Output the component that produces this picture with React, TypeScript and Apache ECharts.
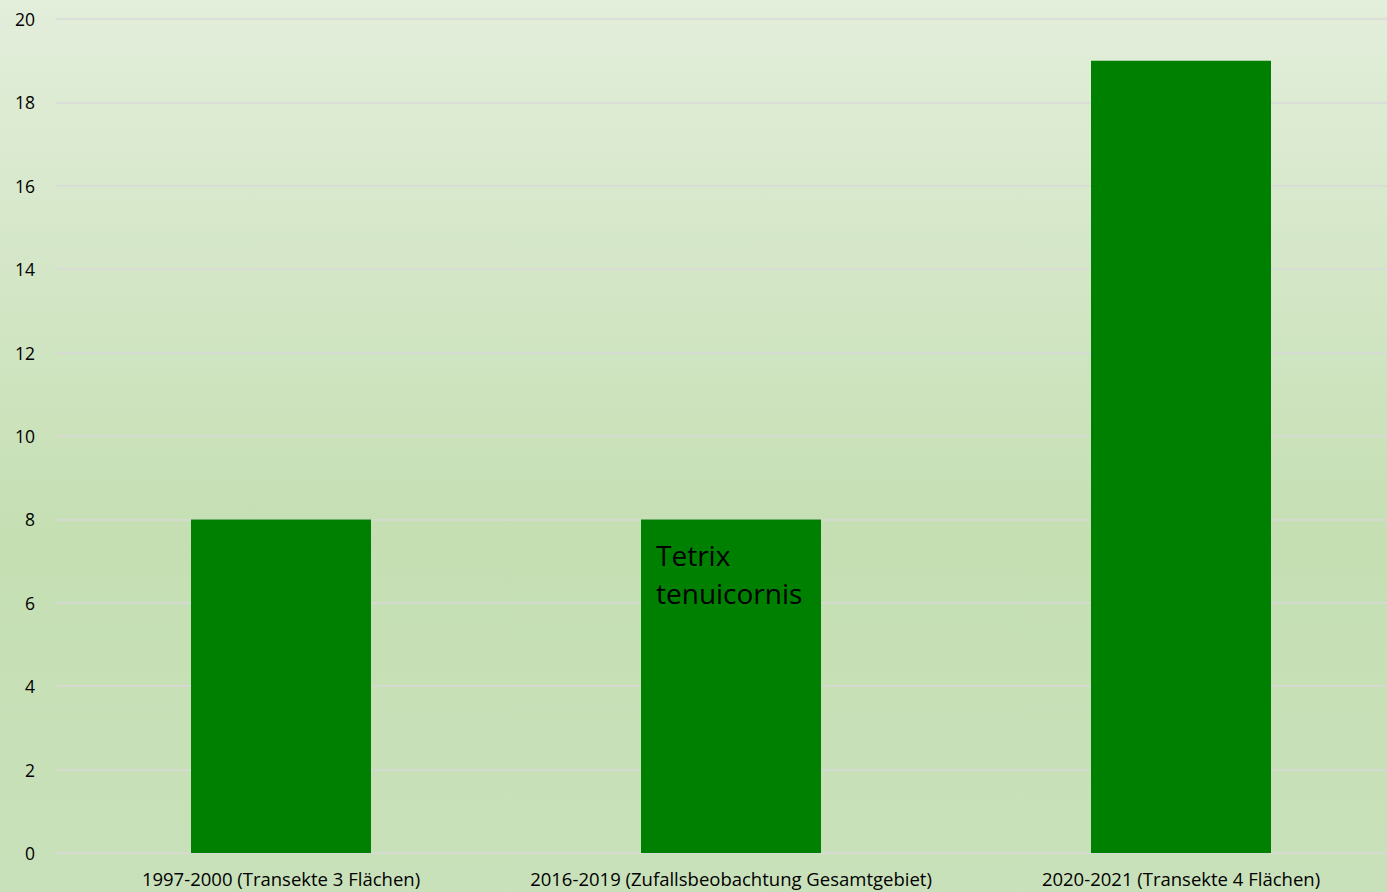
import React, { useEffect, useRef } from "react";
import * as echarts from "echarts";

const categories = [
  "1997-2000 (Transekte 3 Flächen)",
  "2016-2019 (Zufallsbeobachtung Gesamtgebiet)",
  "2020-2021 (Transekte 4 Flächen)",
];
const values = [8, 8, 19];
const annotationIndex = 1;
const annotationText = "Tetrix\ntenuicornis";

export default function App() {
  const ref = useRef<HTMLDivElement>(null);
  useEffect(() => {
    document.body.style.margin = "0";
    document.body.style.overflow = "hidden";
    document.documentElement.style.overflow = "hidden";
    if (!ref.current) return;
    const chart = echarts.init(ref.current, null, { renderer: "svg" });
    const font = "'Open Sans', 'Noto Sans', sans-serif";
    chart.setOption({
      animation: false,
      backgroundColor: {
        type: "linear",
        x: 0,
        y: 0,
        x2: 0,
        y2: 1,
        colorStops: [
          { offset: 0, color: "#e3eedb" },
          { offset: 0.6, color: "#c5dfb3" },
          { offset: 1, color: "#c9e1ba" },
        ],
      },
      grid: { left: 56, top: 19, right: 0, bottom: 39, containLabel: false },
      xAxis: {
        type: "category",
        data: categories,
        axisLine: { show: false },
        axisTick: { show: false },
        axisLabel: {
          color: "#000",
          fontSize: 18.5,
          fontFamily: font,
          margin: 16,
          interval: 0,
        },
      },
      yAxis: {
        type: "value",
        min: 0,
        max: 20,
        interval: 2,
        axisLine: { show: false },
        axisTick: { show: false },
        axisLabel: {
          color: "#000",
          fontSize: 17.5,
          fontFamily: font,
          margin: 21,
        },
        splitLine: { lineStyle: { color: "#d9d9d9", width: 1.5 } },
      },
      series: [
        {
          type: "bar",
          barWidth: "40%",
          itemStyle: { color: "#008000" },
          data: values.map((v, i) =>
            i === annotationIndex
              ? {
                  value: v,
                  label: {
                    show: true,
                    position: [15, 17],
                    formatter: annotationText,
                    color: "#000",
                    fontSize: 28,
                    lineHeight: 38,
                    fontFamily: font,
                    align: "left",
                    verticalAlign: "top",
                  },
                }
              : v
          ),
        },
      ],
    });
    return () => chart.dispose();
  }, []);
  return (
    <div style={{ width: 1387, height: 892, overflow: "hidden", position: "relative" }}>
      <div ref={ref} style={{ width: 1406, height: 892, position: "absolute", left: 0, top: 0 }} />
    </div>
  );
}
